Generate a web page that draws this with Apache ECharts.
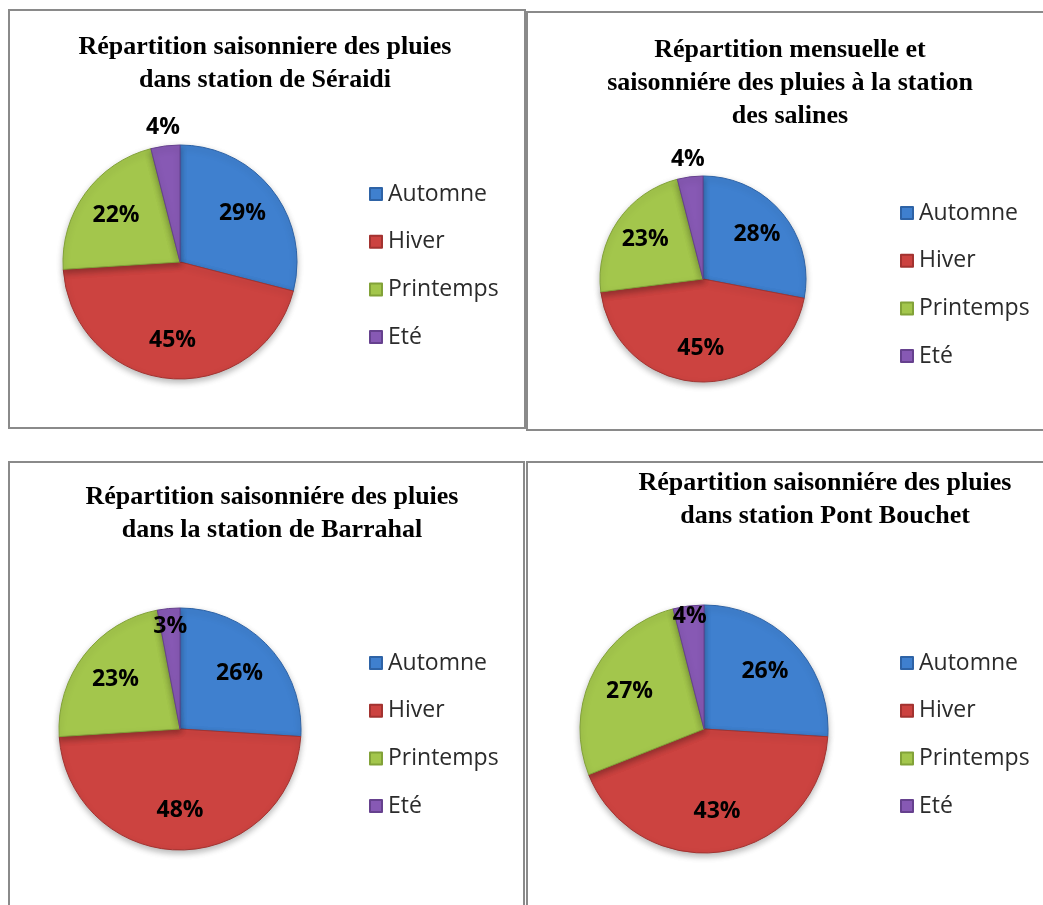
<!DOCTYPE html>
<html>
<head>
<meta charset="utf-8">
<title>Répartition saisonnière des pluies</title>
<script src="https://cdn.jsdelivr.net/npm/echarts@6/dist/echarts.min.js"></script>
<style>
  html, body { margin: 0; padding: 0; background: #ffffff; }
  #chart { width: 1043px; height: 905px; }
</style>
</head>
<body>
<div id="chart"></div>
<script>
// Seasons (legend order, drawn clockwise from 12 o'clock)
const seasons = ['Automne', 'Hiver', 'Printemps', 'Eté'];

// Seasonal share of annual rainfall (%) per station
const seraidi     = [29, 45, 22, 4];
const salines     = [28, 45, 23, 4];
const barrahal    = [26, 48, 23, 3];
const pontBouchet = [26, 43, 27, 4];

// Panel titles
const titleSeraidi     = 'Répartition saisonniere des pluies\ndans station de Séraidi';
const titleSalines     = 'Répartition mensuelle et\nsaisonniére des pluies à la station\ndes salines';
const titleBarrahal    = 'Répartition saisonniére des pluies\ndans la station de Barrahal';
const titlePontBouchet = 'Répartition saisonniére des pluies\ndans station Pont Bouchet';

// Slice colours and their darker edges
const fills   = ['#3f80cf', '#cc4340', '#a3c64c', '#8759b4'];
const edges   = ['#2e63a6', '#a33330', '#82a238', '#66418e'];

// Panel layout: frame, title anchor, pie centre/radius, legend anchor,
// and the ring (fractions of the radius) on which the small slice's label sits
const panels = [
  { values: seraidi, title: titleSeraidi,
    frame: [9, 10, 516, 418], titleX: 265, titleY: 31,
    center: [180, 262], r: 117, legend: [364, 177], smallRing: [1.00, 1.26] },
  { values: salines, title: titleSalines,
    frame: [527, 12, 520, 418], titleX: 790, titleY: 34,
    center: [703, 279], r: 103, legend: [895, 196], smallRing: [1.01, 1.27] },
  { values: barrahal, title: titleBarrahal,
    frame: [9, 462, 515, 460], titleX: 272, titleY: 481,
    center: [180, 729], r: 121, legend: [364, 646], smallRing: [0.66, 1.00] },
  { values: pontBouchet, title: titlePontBouchet,
    frame: [527, 462, 520, 460], titleX: 825, titleY: 467,
    center: [704, 729], r: 124, legend: [895, 646], smallRing: [0.78, 1.00] }
];

const SMALL = 3; // index of the summer slice, labelled on its own ring

const labelStyle = {
  fontFamily: 'Open Sans',
  fontWeight: 'bold',
  fontSize: 23,
  color: '#000000'
};

const title = [];
const legend = [];
const series = [];
const graphic = [];

panels.forEach(function (p) {
  // frame
  graphic.push({
    type: 'rect',
    silent: true,
    shape: { x: p.frame[0], y: p.frame[1], width: p.frame[2], height: p.frame[3] },
    style: { fill: 'none', stroke: '#8a8a8a', lineWidth: 2 }
  });

  title.push({
    text: p.title,
    left: p.titleX,
    top: p.titleY,
    textAlign: 'center',
    padding: 0,
    textStyle: {
      fontFamily: 'Liberation Serif',
      fontWeight: 'bold',
      fontSize: 26,
      lineHeight: 33,
      color: '#000000'
    }
  });

  legend.push({
    orient: 'vertical',
    left: p.legend[0],
    top: p.legend[1],
    icon: 'rect',
    itemWidth: 12,
    itemHeight: 12,
    itemGap: 23.7,
    selectedMode: false,
    data: seasons,
    textStyle: {
      fontFamily: 'Open Sans',
      fontSize: 23,
      lineHeight: 24,
      color: '#2b2b2b',
      padding: [0, 0, 0, 1]
    }
  });

  const pieData = p.values.map(function (v, i) {
    return {
      name: seasons[i],
      value: v,
      itemStyle: { color: fills[i], borderColor: edges[i] }
    };
  });

  // visible pie
  series.push({
    type: 'pie',
    center: p.center,
    radius: [0, p.r],
    startAngle: 90,
    clockwise: true,
    avoidLabelOverlap: false,
    label: { show: false },
    labelLine: { show: false },
    emphasis: { disabled: true },
    itemStyle: {
      borderWidth: 1,
      shadowBlur: 6,
      shadowOffsetY: 3,
      shadowColor: 'rgba(0,0,0,0.28)'
    },
    data: pieData
  });

  // value labels for the larger slices, on a ring around 0.65 r
  series.push({
    type: 'pie',
    center: p.center,
    radius: [p.r * 0.3, p.r],
    startAngle: 90,
    clockwise: true,
    silent: true,
    legendHoverLink: false,
    avoidLabelOverlap: false,
    emphasis: { disabled: true },
    itemStyle: { color: 'rgba(0,0,0,0)', borderWidth: 0 },
    labelLine: { show: false },
    data: p.values.map(function (v, i) {
      return {
        name: seasons[i],
        value: v,
        label: Object.assign({ show: i !== SMALL, position: 'inside', formatter: '{c}%' }, labelStyle)
      };
    })
  });

  // value label for the small summer slice
  series.push({
    type: 'pie',
    center: p.center,
    radius: [p.r * p.smallRing[0], p.r * p.smallRing[1]],
    startAngle: 90,
    clockwise: true,
    silent: true,
    legendHoverLink: false,
    avoidLabelOverlap: false,
    emphasis: { disabled: true },
    itemStyle: { color: 'rgba(0,0,0,0)', borderWidth: 0 },
    labelLine: { show: false },
    data: p.values.map(function (v, i) {
      return {
        name: seasons[i],
        value: v,
        label: Object.assign({ show: i === SMALL, position: 'inside', formatter: '{c}%' }, labelStyle)
      };
    })
  });
});

const chart = echarts.init(document.getElementById('chart'), null, { renderer: 'canvas' });
chart.setOption({
  backgroundColor: '#ffffff',
  animation: false,
  title: title,
  legend: legend,
  graphic: graphic,
  series: series
});
</script>
</body>
</html>
